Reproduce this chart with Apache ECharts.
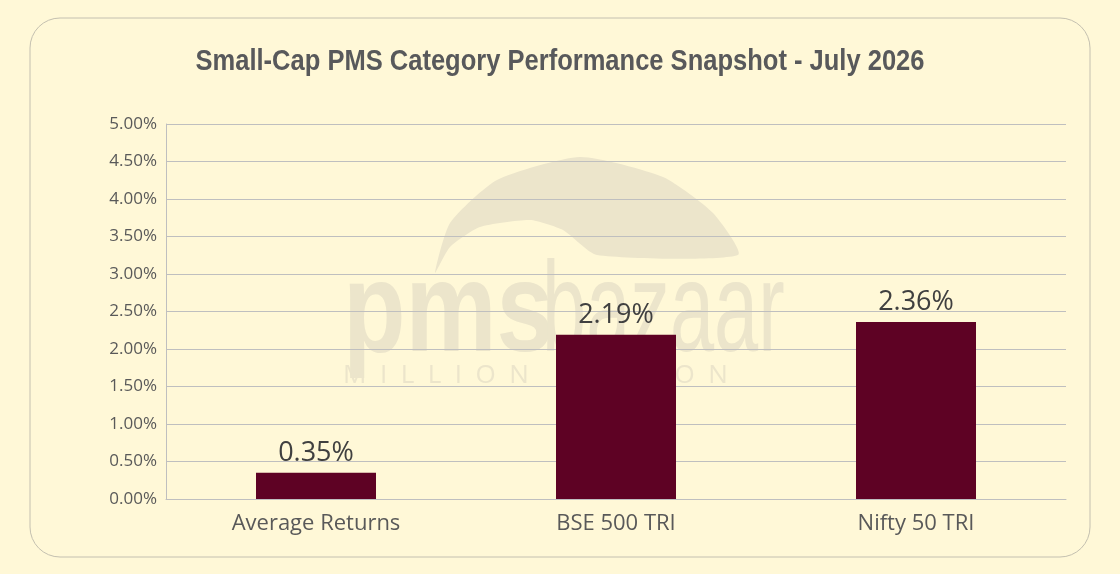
<!DOCTYPE html>
<html>
<head>
<meta charset="utf-8">
<script src="https://cdn.jsdelivr.net/npm/echarts@6/dist/echarts.min.js"></script>
<style>
    html, body { margin: 0; padding: 0; background: #FFF8D7; }
    #chart { width: 1120px; height: 574px; }
</style>
</head>
<body>
<div id="chart"></div>
<script>
// chart data
const categories = ['Average Returns', 'BSE 500 TRI', 'Nifty 50 TRI']
const returns = [0.35, 2.19, 2.36]
const titleText = 'Small-Cap PMS Category Performance Snapshot - July 2026'

const chart = echarts.init(document.getElementById('chart'))

const watermarkColor = '#ECE5CB'

const option = {
    backgroundColor: '#FFF8D7',
    graphic: [
        {
            type: 'rect',
            z: -20,
            silent: true,
            shape: { x: 30, y: 18, width: 1060, height: 539, r: 30 },
            style: { fill: '#FFF8D7', stroke: '#C4C0B0', lineWidth: 1 }
        },
        // title, squeezed to look like a condensed face
        {
            type: 'text',
            x: 560,
            y: 62,
            scaleX: 0.88,
            silent: true,
            style: {
                text: titleText,
                x: 0,
                y: 0,
                align: 'center',
                verticalAlign: 'middle',
                fontFamily: '"Liberation Sans", Arial, sans-serif',
                fontWeight: 'bold',
                fontSize: 29,
                fill: '#58595B'
            }
        },
        // faint logo watermark behind the plot
        {
            type: 'polygon',
            z: -10,
            silent: true,
            shape: {
                smooth: 0.2,
                points: [
                    [435, 273], [450, 223], [497, 180], [580, 157], [663, 177], [713, 213],
                    [738, 255], [597, 255], [563, 230], [530, 220], [480, 227], [450, 247]
                ]
            },
            style: { fill: watermarkColor }
        },
        {
            type: 'text',
            z: -10,
            x: 343,
            y: 380,
            scaleX: 0.8,
            silent: true,
            style: {
                text: 'pms',
                x: 0,
                y: 0,
                verticalAlign: 'bottom',
                fontFamily: '"Liberation Sans", sans-serif',
                fontWeight: 'bold',
                fontSize: 128,
                fill: watermarkColor
            }
        },
        {
            type: 'text',
            z: -10,
            x: 542,
            y: 380,
            scaleX: 0.62,
            silent: true,
            style: {
                text: 'bazaar',
                x: 0,
                y: 0,
                verticalAlign: 'bottom',
                fontFamily: '"Liberation Sans", sans-serif',
                fontSize: 128,
                fill: watermarkColor
            }
        },
        {
            type: 'text',
            z: -10,
            x: 343,
            y: 376,
            silent: true,
            style: {
                text: 'M  I  L  L  I  O  N       V  I  S  I  O  N',
                x: 0,
                y: 0,
                verticalAlign: 'middle',
                fontFamily: '"Open Sans", sans-serif',
                fontSize: 26,
                fill: watermarkColor
            }
        }
    ],
    grid: {
        left: 166,
        right: 54,
        top: 124,
        bottom: 75
    },
    xAxis: {
        type: 'category',
        data: categories,
        axisTick: { show: false },
        axisLine: { lineStyle: { color: '#BFBFBF' } },
        axisLabel: {
            margin: 14,
            fontFamily: '"Open Sans", sans-serif',
            fontSize: 22,
            color: '#595959'
        }
    },
    yAxis: {
        type: 'value',
        min: 0,
        max: 5,
        interval: 0.5,
        axisLine: { show: true, lineStyle: { color: '#BFBFBF' } },
        axisTick: { show: false },
        splitLine: { lineStyle: { color: '#BFBFBF' } },
        axisLabel: {
            margin: 9,
            fontFamily: '"Open Sans", sans-serif',
            fontSize: 17,
            color: '#595959',
            formatter: v => v.toFixed(2) + '%'
        }
    },
    series: [
        {
            type: 'bar',
            data: returns,
            barWidth: '40%',
            itemStyle: { color: '#5E0224' },
            label: {
                show: true,
                position: 'top',
                distance: 6,
                fontFamily: '"Open Sans", sans-serif',
                fontSize: 27,
                color: '#404040',
                formatter: p => p.value.toFixed(2) + '%'
            }
        }
    ]
}

chart.setOption(option)
</script>
</body>
</html>
